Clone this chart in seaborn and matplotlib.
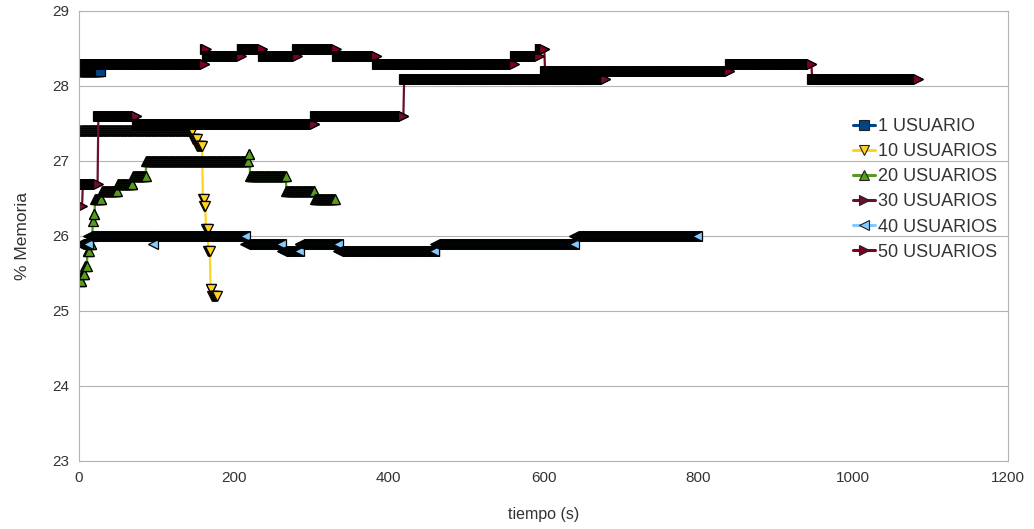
import numpy as np
import pandas as pd
import matplotlib
matplotlib.use("Agg")
import matplotlib.pyplot as plt
import seaborn as sns

# Memory usage readings sampled once per second.  Each series is stored as the
# times where the reading changes, the reading held from that time on, and the
# time of the last sample.
u1_start = [0]
u1_val = [28.2]
u1_end = 27

u10_start = [0, 147, 153, 160, 162, 164, 167, 170, 172]
u10_val = [27.4, 27.3, 27.2, 26.5, 26.4, 26.1, 25.8, 25.3, 25.2]
u10_end = 178

u20_start = [0, 4, 8, 11, 14, 17, 18, 19, 21, 30, 50, 70, 87, 219, 221, 268, 305]
u20_val = [25.4, 25.5, 25.6, 25.8, 25.9, 26.0, 26.2, 26.3, 26.5, 26.6, 26.7,
           26.8, 27.0, 27.1, 26.8, 26.6, 26.5]
u20_end = 331

u30_start = [0, 5, 25, 75, 305, 420]
u30_val = [26.4, 26.7, 27.6, 27.5, 27.6, 28.1]
u30_end = 680

u40_start = [0, 12, 96, 97, 215, 262, 285, 335, 460, 640]
u40_val = [25.9, 26.0, 25.9, 26.0, 25.9, 25.8, 25.9, 25.8, 25.9, 26.0]
u40_end = 798

u50_start = [0, 163, 165, 210, 238, 282, 333, 385, 563, 595, 602, 841, 947]
u50_val = [28.3, 28.5, 28.4, 28.5, 28.4, 28.5, 28.4, 28.3, 28.4, 28.5, 28.2,
           28.3, 28.1]
u50_end = 1084

labels = ["1 USUARIO", "10 USUARIOS", "20 USUARIOS",
          "30 USUARIOS", "40 USUARIOS", "50 USUARIOS"]
colors = ["#004586", "#ffd320", "#579d1c", "#6a0f2c", "#83caff", "#7e0021"]
marker_shapes = ["s", "v", "^", ">", "<", ">"]

x_ticks = [0, 200, 400, 600, 800, 1000, 1200]
y_ticks = [23, 24, 25, 26, 27, 28, 29]

series = [
    (u1_start, u1_val, u1_end),
    (u10_start, u10_val, u10_end),
    (u20_start, u20_val, u20_end),
    (u30_start, u30_val, u30_end),
    (u40_start, u40_val, u40_end),
    (u50_start, u50_val, u50_end),
]

frames = []
for label, (start, val, end) in zip(labels, series):
    t = np.arange(0, end + 1)
    idx = np.searchsorted(start, t, side="right") - 1
    frames.append(pd.DataFrame({"tiempo": t,
                                "memoria": np.asarray(val)[idx],
                                "serie": label}))
df = pd.concat(frames, ignore_index=True)

sns.set_style("white")
plt.rcParams["font.family"] = ["Liberation Sans", "DejaVu Sans"]
narrow = ["Liberation Sans Narrow", "Liberation Sans", "DejaVu Sans"]
grid_grey = "#b3b3b3"
text_grey = "#333333"

fig = plt.figure(figsize=(10.34, 5.29), dpi=100)
ax = fig.add_axes([79 / 1034, 1 - 461 / 529, (1008 - 79) / 1034, (461 - 11) / 529])

sns.lineplot(
    data=df, x="tiempo", y="memoria",
    hue="serie", style="serie",
    hue_order=labels, style_order=labels,
    palette=dict(zip(labels, colors)),
    markers=dict(zip(labels, marker_shapes)),
    dashes=False, estimator=None, errorbar=None, sort=False,
    linewidth=1.6, markersize=6.5,
    markeredgecolor="black", markeredgewidth=0.9,
    ax=ax, legend="full",
)

ax.set_xlim(0, 1200)
ax.set_ylim(23, 29)
ax.set_xticks(x_ticks)
ax.set_yticks(y_ticks)
ax.grid(axis="y", color=grid_grey, linewidth=0.8)
ax.grid(axis="x", visible=False)
ax.set_axisbelow(True)
for side in ["left", "right", "top", "bottom"]:
    ax.spines[side].set_visible(True)
    ax.spines[side].set_color(grid_grey)
    ax.spines[side].set_linewidth(0.8)

ax.tick_params(axis="both", length=4, width=0.8, color=grid_grey,
               labelcolor=text_grey, labelsize=11, pad=3)
for lab in ax.get_xticklabels() + ax.get_yticklabels():
    lab.set_family(narrow)

ax.set_xlabel("tiempo (s)", fontsize=11.5, color=text_grey, family=narrow, labelpad=16)
ax.set_ylabel("% Memoria", fontsize=12.5, color=text_grey, labelpad=16)

old = ax.get_legend()
handles = list(old.legend_handles)
texts = [t.get_text() for t in old.get_texts()]
old.remove()
for h in handles:
    h.set_markeredgecolor("#222222")
    h.set_markeredgewidth(0.8)
    h.set_markersize(7.5)
    h.set_linewidth(2.2)
ax.legend(handles, texts, loc="upper left",
          bbox_to_anchor=(853 / 1034, 1 - 118 / 529),
          bbox_transform=fig.transFigure, frameon=False,
          fontsize=13, handlelength=1.2, handletextpad=0.2,
          labelspacing=0.45, borderaxespad=0, borderpad=0,
          labelcolor=text_grey)

fig.savefig("out.png", dpi=100)
